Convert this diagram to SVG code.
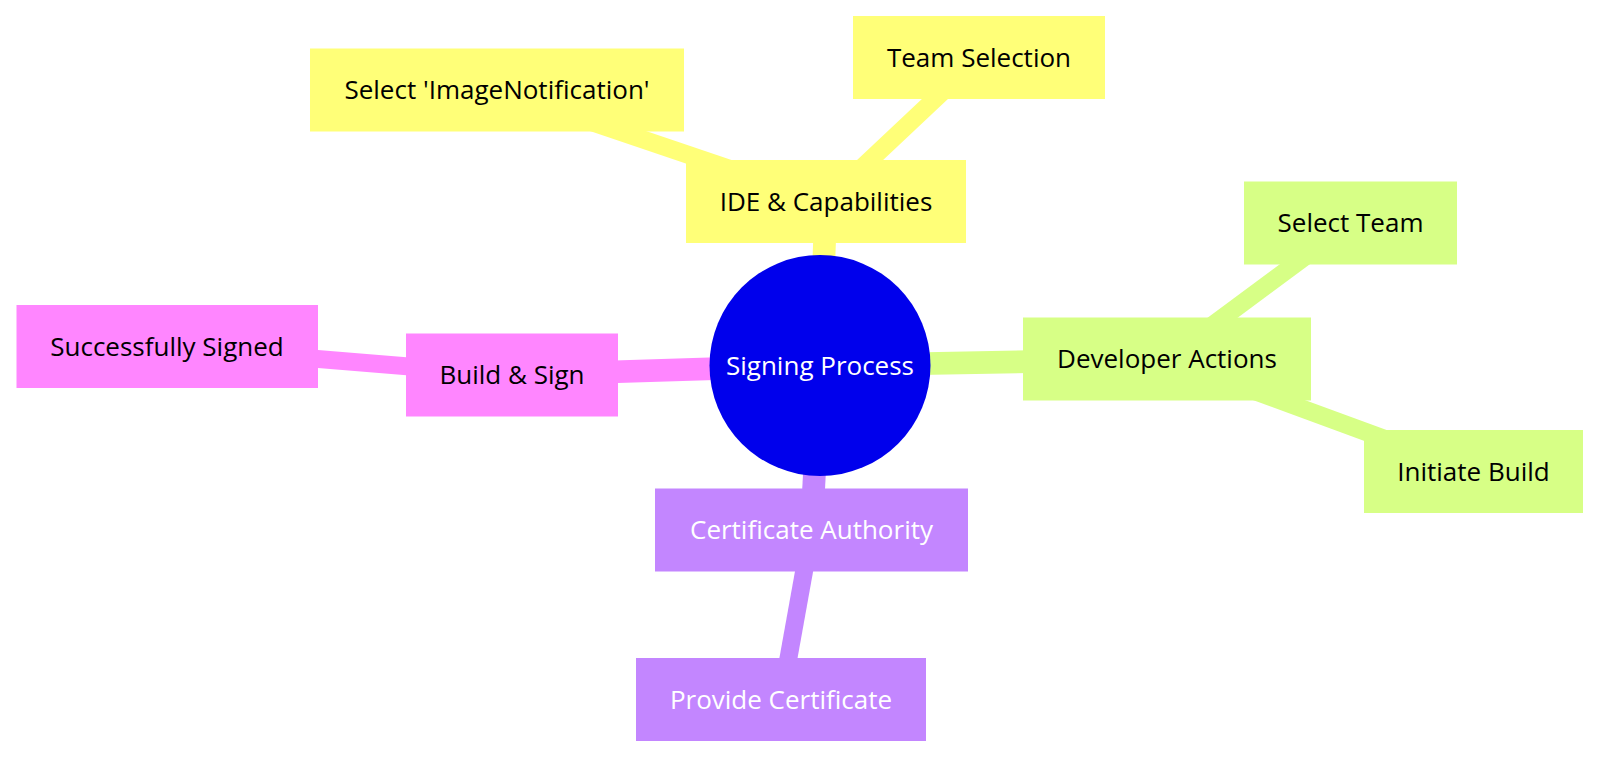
<svg xmlns="http://www.w3.org/2000/svg" width="1600" height="758" viewBox="0 0 1600 758">
<style>
.bg{fill:#ffffff}
.lbl{font-family:"Open Sans","Liberation Sans",sans-serif;font-size:26px;text-anchor:middle}
.dark{fill:#000000}
.light{fill:#ffffff}
.s0{fill:#ffff78}
.s1{fill:#d7ff86}
.s2{fill:#c386ff}
.s3{fill:#ff86ff}
.root{fill:#0000ec}
.e{fill:none;stroke-linecap:butt}
.e0{stroke:#ffff78}
.e1{stroke:#d7ff86}
.e2{stroke:#c386ff}
.e3{stroke:#ff86ff}
.d0{stroke-width:22.75}
.d1{stroke-width:17.9}
</style>
<rect class="bg" x="0" y="0" width="1600" height="758"/>
<g id="connectors">
<line class="e e0 d0" x1="820" y1="365.5" x2="826" y2="201.5"/>
<line class="e e0 d1" x1="826" y1="201.5" x2="497" y2="90"/>
<line class="e e0 d1" x1="826" y1="201.5" x2="979" y2="57.5"/>
<line class="e e1 d0" x1="820" y1="365.5" x2="1167" y2="359"/>
<line class="e e1 d1" x1="1167" y1="359" x2="1350.5" y2="223"/>
<line class="e e1 d1" x1="1167" y1="359" x2="1473.5" y2="471.5"/>
<line class="e e2 d0" x1="820" y1="365.5" x2="811.5" y2="530"/>
<line class="e e2 d1" x1="811.5" y1="530" x2="781" y2="699.5"/>
<line class="e e3 d0" x1="820" y1="365.5" x2="512" y2="375"/>
<line class="e e3 d1" x1="512" y1="375" x2="167" y2="346.5"/>
</g>
<g id="node-ide">
<rect class="s0" x="686" y="160" width="280" height="83"/>
<text class="lbl dark" x="826" y="210.7">IDE &amp; Capabilities</text>
</g>
<g id="node-select-imagenotification">
<rect class="s0" x="310" y="48.5" width="374" height="83"/>
<text class="lbl dark" x="497" y="99.2">Select 'ImageNotification'</text>
</g>
<g id="node-team-selection">
<rect class="s0" x="853" y="16" width="252" height="83"/>
<text class="lbl dark" x="979" y="66.7">Team Selection</text>
</g>
<g id="node-developer-actions">
<rect class="s1" x="1023" y="317.5" width="288" height="83"/>
<text class="lbl dark" x="1167" y="368.2">Developer Actions</text>
</g>
<g id="node-select-team">
<rect class="s1" x="1244" y="181.5" width="213" height="83"/>
<text class="lbl dark" x="1350.5" y="232.2">Select Team</text>
</g>
<g id="node-initiate-build">
<rect class="s1" x="1364" y="430" width="219" height="83"/>
<text class="lbl dark" x="1473.5" y="480.7">Initiate Build</text>
</g>
<g id="node-certificate-authority">
<rect class="s2" x="655" y="488.5" width="313" height="83"/>
<text class="lbl light" x="811.5" y="539.2">Certificate Authority</text>
</g>
<g id="node-provide-certificate">
<rect class="s2" x="636" y="658" width="290" height="83"/>
<text class="lbl light" x="781" y="708.7">Provide Certificate</text>
</g>
<g id="node-build-sign">
<rect class="s3" x="406" y="333.5" width="212" height="83"/>
<text class="lbl dark" x="512" y="384.2">Build &amp; Sign</text>
</g>
<g id="node-successfully-signed">
<rect class="s3" x="16.5" y="305" width="301.5" height="83"/>
<text class="lbl dark" x="167" y="355.7">Successfully Signed</text>
</g>
<g id="node-root">
<circle class="root" cx="820" cy="365.5" r="110.5"/>
<text class="lbl light" x="820" y="374.7">Signing Process</text>
</g>
</svg>
